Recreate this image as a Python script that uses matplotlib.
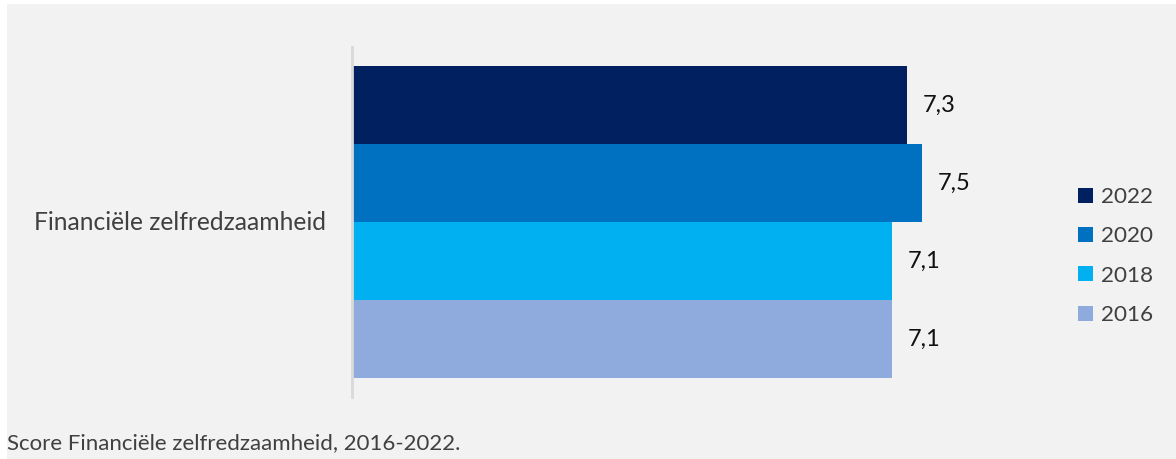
import matplotlib.pyplot as plt
from matplotlib.patches import Rectangle

# data
category = "Financiële zelfredzaamheid"
years = ["2022", "2020", "2018", "2016"]
scores = [7.3, 7.5, 7.1, 7.1]
labels = ["7,3", "7,5", "7,1", "7,1"]
colors = ["#002060", "#0070C0", "#00B0F0", "#8FAADC"]
caption = "Score Financiële zelfredzaamheid, 2016-2022."

plt.rcParams["font.family"] = ["Lato", "DejaVu Sans"]

W, H = 1176, 459
fig = plt.figure(figsize=(W / 100, H / 100), dpi=100, facecolor="white")
# grey panel (thin white margin on top and left)
fig.patches.append(Rectangle((7 / W, 0), 1 - 7 / W, 1 - 4 / H, transform=fig.transFigure,
                             facecolor="#F2F2F2", edgecolor="none", zorder=-5))

x0, x1 = 352, 958
y0, y1 = 47, 397
ax = fig.add_axes([x0 / W, 1 - y1 / H, (x1 - x0) / W, (y1 - y0) / H])
ax.set_facecolor("none")

h = (312 / 350) / len(years)
for i, (yr, val, lab, col) in enumerate(zip(years, scores, labels, colors)):
    yc = (1.5 - i) * h
    ax.barh(yc, val, height=h, color=col, label=yr)
    ax.text(val + 0.21, yc, lab, va="center", ha="left", fontsize=17, color="#111111")

ax.set_xlim(0, 7.97)
ax.set_ylim(-0.5, 0.5)
for s in ["top", "right", "bottom"]:
    ax.spines[s].set_visible(False)
ax.spines["left"].set_color("#D9D9D9")
ax.spines["left"].set_linewidth(2)
ax.set_xticks([])
ax.set_yticks([])

fig.text(326 / W, 1 - 222 / H, category, ha="right", va="center", fontsize=17.7, color="#404040")

leg = ax.legend(loc="center left", bbox_to_anchor=(1078 / W, 1 - 256 / H), bbox_transform=fig.transFigure,
                frameon=False, fontsize=16.2, handlelength=0.65, handleheight=0.65,
                handletextpad=0.35, labelspacing=0.86, labelcolor="#404040", borderpad=0,
                borderaxespad=0)

fig.text(7 / W, 1 - 443 / H, caption, ha="left", va="center", fontsize=16, color="#404040")

fig.savefig("out.png", dpi=100, facecolor=fig.get_facecolor())
